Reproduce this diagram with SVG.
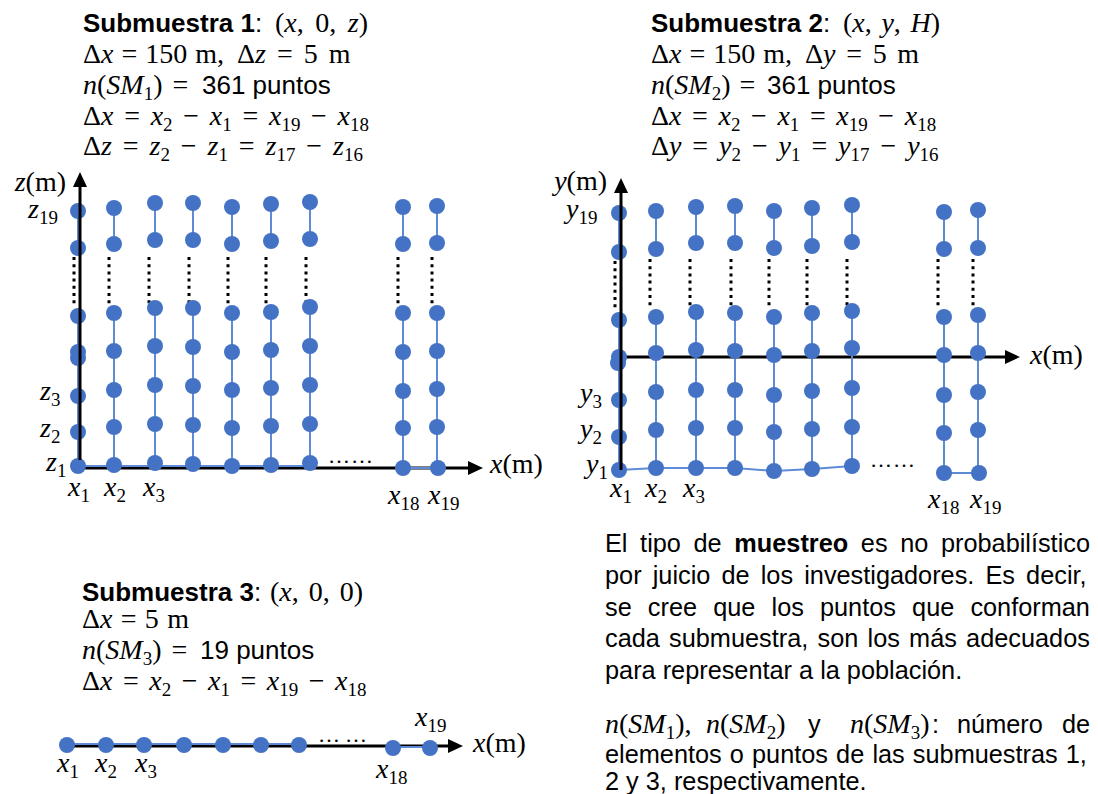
<svg xmlns="http://www.w3.org/2000/svg" width="1098" height="794" viewBox="0 0 1098 794">
<style>
.s{font-family:"Liberation Sans",Arial,sans-serif;font-size:26px;fill:#000}
.b{font-weight:bold}
.m{font-family:"Liberation Serif","Times New Roman",serif;font-size:28px;fill:#000}
.i{font-style:italic}
.sub{font-size:19px;font-style:normal}
.p{font-family:"Liberation Sans",Arial,sans-serif;font-size:25.3px;fill:#000}
.d{fill:#4472C4}
.bl{stroke:#5E8BD6;stroke-width:2;fill:none}
.ax{stroke:#000;stroke-width:3;fill:none}
.dt{stroke:#000;stroke-width:3;stroke-dasharray:3 4.2;fill:none}
.el{font-family:"Liberation Serif","Times New Roman",serif;font-size:22px;fill:#000}
</style>
<defs>
<marker id="ah" markerWidth="16" markerHeight="14" refX="1" refY="7" orient="auto" markerUnits="userSpaceOnUse"><path d="M0,0 L15,7 L0,14 z" fill="#000"/></marker>
</defs>
<rect width="1098" height="794" fill="#fff"/>

<g id="submuestra1-texto">
<text class="s" x="83" y="32"><tspan class="b">Submuestra 1</tspan>:</text>
<text class="m" x="275" y="32" word-spacing="4.5">(<tspan class="i">x</tspan>, 0, <tspan class="i">z</tspan>)</text>
<text class="m" x="83" y="63" word-spacing="1">Δ<tspan class="i">x</tspan> = 150 m,</text>
<text class="m" x="237" y="63" word-spacing="4">Δ<tspan class="i">z</tspan> = 5 m</text>
<text class="m" x="83" y="94" word-spacing="3"><tspan class="i">n</tspan>(<tspan class="i">SM</tspan><tspan class="sub" dy="6">1</tspan><tspan dy="-6">) =</tspan></text>
<text class="s" x="202" y="94">361 puntos</text>
<text class="m" x="83" y="125" word-spacing="3.7">Δ<tspan class="i">x</tspan> = <tspan class="i">x</tspan><tspan class="sub" dy="6">2</tspan><tspan dy="-6"> − </tspan><tspan class="i">x</tspan><tspan class="sub" dy="6">1</tspan><tspan dy="-6"> = </tspan><tspan class="i">x</tspan><tspan class="sub" dy="6">19</tspan><tspan dy="-6"> − </tspan><tspan class="i">x</tspan><tspan class="sub" dy="6">18</tspan></text>
<text class="m" x="83" y="155" word-spacing="3.9">Δ<tspan class="i">z</tspan> = <tspan class="i">z</tspan><tspan class="sub" dy="6">2</tspan><tspan dy="-6"> − </tspan><tspan class="i">z</tspan><tspan class="sub" dy="6">1</tspan><tspan dy="-6"> = </tspan><tspan class="i">z</tspan><tspan class="sub" dy="6">17</tspan><tspan dy="-6"> − </tspan><tspan class="i">z</tspan><tspan class="sub" dy="6">16</tspan></text>
</g>

<g id="submuestra2-texto">
<text class="s" x="651" y="32"><tspan class="b">Submuestra 2</tspan>:</text>
<text class="m" x="843" y="32" word-spacing="2.6">(<tspan class="i">x</tspan>, <tspan class="i">y</tspan>, <tspan class="i">H</tspan>)</text>
<text class="m" x="651" y="63" word-spacing="1">Δ<tspan class="i">x</tspan> = 150 m,</text>
<text class="m" x="805" y="63" word-spacing="3.7">Δ<tspan class="i">y</tspan> = 5 m</text>
<text class="m" x="651" y="94" word-spacing="2"><tspan class="i">n</tspan>(<tspan class="i">SM</tspan><tspan class="sub" dy="6">2</tspan><tspan dy="-6">) =</tspan></text>
<text class="s" x="767" y="94">361 puntos</text>
<text class="m" x="651" y="125" word-spacing="3.6">Δ<tspan class="i">x</tspan> = <tspan class="i">x</tspan><tspan class="sub" dy="6">2</tspan><tspan dy="-6"> − </tspan><tspan class="i">x</tspan><tspan class="sub" dy="6">1</tspan><tspan dy="-6"> = </tspan><tspan class="i">x</tspan><tspan class="sub" dy="6">19</tspan><tspan dy="-6"> − </tspan><tspan class="i">x</tspan><tspan class="sub" dy="6">18</tspan></text>
<text class="m" x="651" y="155" word-spacing="3.9">Δ<tspan class="i">y</tspan> = <tspan class="i">y</tspan><tspan class="sub" dy="6">2</tspan><tspan dy="-6"> − </tspan><tspan class="i">y</tspan><tspan class="sub" dy="6">1</tspan><tspan dy="-6"> = </tspan><tspan class="i">y</tspan><tspan class="sub" dy="6">17</tspan><tspan dy="-6"> − </tspan><tspan class="i">y</tspan><tspan class="sub" dy="6">16</tspan></text>
</g>

<g id="submuestra3-texto">
<text class="s" x="82" y="601"><tspan class="b">Submuestra 3</tspan>:</text>
<text class="m" x="270" y="601" word-spacing="3">(<tspan class="i">x</tspan>, 0, 0)</text>
<text class="m" x="82" y="628" word-spacing="1.3">Δ<tspan class="i">x</tspan> = 5 m</text>
<text class="m" x="82" y="659" word-spacing="3"><tspan class="i">n</tspan>(<tspan class="i">SM</tspan><tspan class="sub" dy="6">3</tspan><tspan dy="-6">) =</tspan></text>
<text class="s" x="200" y="659">19 puntos</text>
<text class="m" x="82" y="690" word-spacing="3.5">Δ<tspan class="i">x</tspan> = <tspan class="i">x</tspan><tspan class="sub" dy="6">2</tspan><tspan dy="-6"> − </tspan><tspan class="i">x</tspan><tspan class="sub" dy="6">1</tspan><tspan dy="-6"> = </tspan><tspan class="i">x</tspan><tspan class="sub" dy="6">19</tspan><tspan dy="-6"> − </tspan><tspan class="i">x</tspan><tspan class="sub" dy="6">18</tspan></text>
</g>

<g id="nota">
<text class="p" x="605" y="552" word-spacing="5.6">El tipo de <tspan class="b">muestreo</tspan> es no probabilístico</text>
<text class="p" x="605" y="584" word-spacing="4.1">por juicio de los investigadores. Es decir,</text>
<text class="p" x="605" y="616" word-spacing="9.1">se cree que los puntos que conforman</text>
<text class="p" x="605" y="647" word-spacing="2.2">cada submuestra, son los más adecuados</text>
<text class="p" x="605" y="679">para representar a la población.</text>
<text class="m" x="605" y="733"><tspan class="i">n</tspan>(<tspan class="i">SM</tspan><tspan class="sub" dy="6">1</tspan><tspan dy="-6">),</tspan></text>
<text class="m" x="706" y="733"><tspan class="i">n</tspan>(<tspan class="i">SM</tspan><tspan class="sub" dy="6">2</tspan><tspan dy="-6">)</tspan></text>
<text class="p" x="808" y="733">y</text>
<text class="m" x="850" y="733"><tspan class="i">n</tspan>(<tspan class="i">SM</tspan><tspan class="sub" dy="6">3</tspan><tspan dy="-6">)</tspan></text>
<text class="p" x="932" y="733">:</text>
<text class="p" x="957" y="733">número</text>
<text class="p" x="1062" y="733">de</text>
<text class="p" x="605" y="763" word-spacing="1.1">elementos o puntos de las submuestras 1,</text>
<text class="p" x="605" y="790">2 y 3, respectivamente.</text>
</g>

<g id="ejes">
<line class="ax" x1="79" y1="468" x2="469" y2="468" marker-end="url(#ah)"/>
<line class="ax" x1="619" y1="357" x2="1006" y2="357" marker-end="url(#ah)"/>
<line class="ax" x1="67" y1="746" x2="449" y2="746" marker-end="url(#ah)"/>
</g>

<g id="connectors">
<path class="bl" d="M78,211V248M78,316V466M114,208V244M114,313V465M155,203V240M155,308V463M193,203V240M193,308V464M232,207V244M232,313V466M271,204V241M271,312V465M310,202V239M310,307V463M403,207V244M403,313V468M437,206V243M437,313V468M78,466H310M403,468H437"/>
<path class="bl" d="M619,213V252M619,320V470M656,211V249M656,317V468M696,207V243M696,312V468M735,206V243M735,313V468M774,211V248M774,317V472M812,208V246M812,313V469M852,205V242M852,311V466M944,212V249M944,317V473M978,210V248M978,315V473M619,470L656,468L696,468L735,468L774,471L812,469L852,466M944,473H978"/>
<path class="bl" d="M67,744H299M393,747H430"/>
</g>

<g id="puntos-suspensivos">
<path class="dt" d="M74,257V307M109,257V307M149,257V307M189,257V307M228,257V307M266,257V307M306,257V307M398,257V307M432,257V307"/>
<path class="dt" d="M615,261V311M650,259V309M690,259V309M731,259V309M769,259V309M807,259V309M847,259V309M938,259V309M973,259V309"/>
<text class="el" x="328" y="463" textLength="45" lengthAdjust="spacing">……</text>
<text class="el" x="870" y="467" textLength="45" lengthAdjust="spacing">……</text>
<text class="el" x="318" y="742" textLength="49" lengthAdjust="spacing">……</text>
</g>

<g id="submuestra1-puntos">
<g id="sm1-x1"><circle class="d" cx="78" cy="211" r="8"/><circle class="d" cx="78" cy="248" r="8"/><circle class="d" cx="78" cy="316" r="8"/><circle class="d" cx="78" cy="352" r="8"/><circle class="d" cx="78" cy="358" r="8"/><circle class="d" cx="78" cy="396" r="8"/><circle class="d" cx="78" cy="432" r="8"/><circle class="d" cx="78" cy="466" r="8"/></g>
<g id="sm1-x2"><circle class="d" cx="114" cy="208" r="8"/><circle class="d" cx="114" cy="244" r="8"/><circle class="d" cx="114" cy="313" r="8"/><circle class="d" cx="114" cy="351" r="8"/><circle class="d" cx="114" cy="390" r="8"/><circle class="d" cx="114" cy="427" r="8"/><circle class="d" cx="114" cy="465" r="8"/></g>
<g id="sm1-x3"><circle class="d" cx="155" cy="203" r="8"/><circle class="d" cx="155" cy="240" r="8"/><circle class="d" cx="155" cy="308" r="8"/><circle class="d" cx="155" cy="346" r="8"/><circle class="d" cx="155" cy="385" r="8"/><circle class="d" cx="155" cy="424" r="8"/><circle class="d" cx="155" cy="463" r="8"/></g>
<g id="sm1-x4"><circle class="d" cx="193" cy="203" r="8"/><circle class="d" cx="193" cy="240" r="8"/><circle class="d" cx="193" cy="308" r="8"/><circle class="d" cx="193" cy="347" r="8"/><circle class="d" cx="193" cy="386" r="8"/><circle class="d" cx="193" cy="425" r="8"/><circle class="d" cx="193" cy="464" r="8"/></g>
<g id="sm1-x5"><circle class="d" cx="232" cy="207" r="8"/><circle class="d" cx="232" cy="244" r="8"/><circle class="d" cx="232" cy="313" r="8"/><circle class="d" cx="232" cy="352" r="8"/><circle class="d" cx="232" cy="390" r="8"/><circle class="d" cx="232" cy="428" r="8"/><circle class="d" cx="232" cy="466" r="8"/></g>
<g id="sm1-x6"><circle class="d" cx="271" cy="204" r="8"/><circle class="d" cx="271" cy="241" r="8"/><circle class="d" cx="271" cy="312" r="8"/><circle class="d" cx="271" cy="350" r="8"/><circle class="d" cx="271" cy="388" r="8"/><circle class="d" cx="271" cy="426" r="8"/><circle class="d" cx="271" cy="465" r="8"/></g>
<g id="sm1-x7"><circle class="d" cx="310" cy="202" r="8"/><circle class="d" cx="310" cy="239" r="8"/><circle class="d" cx="310" cy="307" r="8"/><circle class="d" cx="310" cy="346" r="8"/><circle class="d" cx="310" cy="385" r="8"/><circle class="d" cx="310" cy="424" r="8"/><circle class="d" cx="310" cy="463" r="8"/></g>
<g id="sm1-x18"><circle class="d" cx="403" cy="207" r="8"/><circle class="d" cx="403" cy="244" r="8"/><circle class="d" cx="403" cy="313" r="8"/><circle class="d" cx="403" cy="352" r="8"/><circle class="d" cx="403" cy="391" r="8"/><circle class="d" cx="403" cy="428" r="8"/><circle class="d" cx="403" cy="468" r="8"/></g>
<g id="sm1-x19"><circle class="d" cx="437" cy="206" r="8"/><circle class="d" cx="437" cy="243" r="8"/><circle class="d" cx="437" cy="313" r="8"/><circle class="d" cx="437" cy="351" r="8"/><circle class="d" cx="437" cy="389" r="8"/><circle class="d" cx="437" cy="427" r="8"/><circle class="d" cx="438" cy="468" r="8"/></g>
</g>

<g id="submuestra2-puntos">
<g id="sm2-x1"><circle class="d" cx="619" cy="213" r="8"/><circle class="d" cx="619" cy="252" r="8"/><circle class="d" cx="619" cy="320" r="8"/><circle class="d" cx="619" cy="357" r="8"/><circle class="d" cx="618" cy="363" r="8"/><circle class="d" cx="619" cy="400" r="8"/><circle class="d" cx="619" cy="437" r="8"/><circle class="d" cx="619" cy="470" r="8"/></g>
<g id="sm2-x2"><circle class="d" cx="656" cy="211" r="8"/><circle class="d" cx="656" cy="249" r="8"/><circle class="d" cx="656" cy="317" r="8"/><circle class="d" cx="656" cy="353" r="8"/><circle class="d" cx="656" cy="392" r="8"/><circle class="d" cx="656" cy="430" r="8"/><circle class="d" cx="656" cy="468" r="8"/></g>
<g id="sm2-x3"><circle class="d" cx="696" cy="207" r="8"/><circle class="d" cx="696" cy="243" r="8"/><circle class="d" cx="696" cy="312" r="8"/><circle class="d" cx="696" cy="350" r="8"/><circle class="d" cx="696" cy="390" r="8"/><circle class="d" cx="696" cy="428" r="8"/><circle class="d" cx="696" cy="468" r="8"/></g>
<g id="sm2-x4"><circle class="d" cx="735" cy="206" r="8"/><circle class="d" cx="735" cy="243" r="8"/><circle class="d" cx="735" cy="313" r="8"/><circle class="d" cx="735" cy="351" r="8"/><circle class="d" cx="735" cy="390" r="8"/><circle class="d" cx="735" cy="428" r="8"/><circle class="d" cx="735" cy="468" r="8"/></g>
<g id="sm2-x5"><circle class="d" cx="774" cy="211" r="8"/><circle class="d" cx="774" cy="248" r="8"/><circle class="d" cx="774" cy="317" r="8"/><circle class="d" cx="774" cy="355" r="8"/><circle class="d" cx="774" cy="395" r="8"/><circle class="d" cx="774" cy="432" r="8"/><circle class="d" cx="774" cy="471" r="8"/></g>
<g id="sm2-x6"><circle class="d" cx="812" cy="208" r="8"/><circle class="d" cx="812" cy="246" r="8"/><circle class="d" cx="812" cy="313" r="8"/><circle class="d" cx="812" cy="351" r="8"/><circle class="d" cx="812" cy="391" r="8"/><circle class="d" cx="812" cy="429" r="8"/><circle class="d" cx="812" cy="469" r="8"/></g>
<g id="sm2-x7"><circle class="d" cx="852" cy="205" r="8"/><circle class="d" cx="852" cy="242" r="8"/><circle class="d" cx="852" cy="311" r="8"/><circle class="d" cx="852" cy="348" r="8"/><circle class="d" cx="852" cy="388" r="8"/><circle class="d" cx="852" cy="427" r="8"/><circle class="d" cx="852" cy="466" r="8"/></g>
<g id="sm2-x18"><circle class="d" cx="944" cy="212" r="8"/><circle class="d" cx="944" cy="249" r="8"/><circle class="d" cx="944" cy="317" r="8"/><circle class="d" cx="944" cy="355" r="8"/><circle class="d" cx="944" cy="395" r="8"/><circle class="d" cx="944" cy="433" r="8"/><circle class="d" cx="944" cy="473" r="8"/></g>
<g id="sm2-x19"><circle class="d" cx="978" cy="210" r="8"/><circle class="d" cx="978" cy="248" r="8"/><circle class="d" cx="978" cy="315" r="8"/><circle class="d" cx="978" cy="353" r="8"/><circle class="d" cx="978" cy="392" r="8"/><circle class="d" cx="978" cy="430" r="8"/><circle class="d" cx="979" cy="473" r="8"/></g>
</g>

<g id="submuestra3-puntos">
<circle class="d" cx="67" cy="745" r="8"/><circle class="d" cx="106" cy="745" r="8"/><circle class="d" cx="144" cy="745" r="8"/><circle class="d" cx="184" cy="745" r="8"/><circle class="d" cx="223" cy="745" r="8"/><circle class="d" cx="261" cy="745" r="8"/><circle class="d" cx="299" cy="745" r="8"/><circle class="d" cx="393" cy="748" r="8"/><circle class="d" cx="430" cy="748" r="8"/>
</g>

<g id="ejes-verticales">
<line class="ax" x1="80" y1="460" x2="80" y2="186" marker-end="url(#ah)"/>
<line class="ax" x1="621" y1="470" x2="621" y2="192" marker-end="url(#ah)"/>
</g>

<g id="etiquetas">
<text class="m" x="66" y="191" text-anchor="end"><tspan class="i">z</tspan>(m)</text>
<text class="m" x="28" y="218"><tspan class="i">z</tspan><tspan class="sub" dy="6">19</tspan></text>
<text class="m" x="40" y="400"><tspan class="i">z</tspan><tspan class="sub" dy="6">3</tspan></text>
<text class="m" x="40" y="437"><tspan class="i">z</tspan><tspan class="sub" dy="6">2</tspan></text>
<text class="m" x="46" y="471"><tspan class="i">z</tspan><tspan class="sub" dy="6">1</tspan></text>
<text class="m" x="68" y="496"><tspan class="i">x</tspan><tspan class="sub" dy="6">1</tspan></text>
<text class="m" x="104" y="496"><tspan class="i">x</tspan><tspan class="sub" dy="6">2</tspan></text>
<text class="m" x="143" y="496"><tspan class="i">x</tspan><tspan class="sub" dy="6">3</tspan></text>
<text class="m" x="388" y="504"><tspan class="i">x</tspan><tspan class="sub" dy="6">18</tspan></text>
<text class="m" x="428" y="504"><tspan class="i">x</tspan><tspan class="sub" dy="6">19</tspan></text>
<text class="m" x="490" y="473"><tspan class="i">x</tspan>(m)</text>

<text class="m" x="607" y="190" text-anchor="end"><tspan class="i">y</tspan>(m)</text>
<text class="m" x="566" y="218"><tspan class="i">y</tspan><tspan class="sub" dy="6">19</tspan></text>
<text class="m" x="580" y="402"><tspan class="i">y</tspan><tspan class="sub" dy="6">3</tspan></text>
<text class="m" x="580" y="438"><tspan class="i">y</tspan><tspan class="sub" dy="6">2</tspan></text>
<text class="m" x="586" y="473"><tspan class="i">y</tspan><tspan class="sub" dy="6">1</tspan></text>
<text class="m" x="610" y="497"><tspan class="i">x</tspan><tspan class="sub" dy="6">1</tspan></text>
<text class="m" x="645" y="497"><tspan class="i">x</tspan><tspan class="sub" dy="6">2</tspan></text>
<text class="m" x="683" y="497"><tspan class="i">x</tspan><tspan class="sub" dy="6">3</tspan></text>
<text class="m" x="928" y="508"><tspan class="i">x</tspan><tspan class="sub" dy="6">18</tspan></text>
<text class="m" x="970" y="508"><tspan class="i">x</tspan><tspan class="sub" dy="6">19</tspan></text>
<text class="m" x="1030" y="364"><tspan class="i">x</tspan>(m)</text>

<text class="m" x="57" y="772"><tspan class="i">x</tspan><tspan class="sub" dy="6">1</tspan></text>
<text class="m" x="95" y="772"><tspan class="i">x</tspan><tspan class="sub" dy="6">2</tspan></text>
<text class="m" x="135" y="772"><tspan class="i">x</tspan><tspan class="sub" dy="6">3</tspan></text>
<text class="m" x="376" y="778"><tspan class="i">x</tspan><tspan class="sub" dy="6">18</tspan></text>
<text class="m" x="415" y="726"><tspan class="i">x</tspan><tspan class="sub" dy="6">19</tspan></text>
<text class="m" x="473" y="752"><tspan class="i">x</tspan>(m)</text>
</g>
</svg>
